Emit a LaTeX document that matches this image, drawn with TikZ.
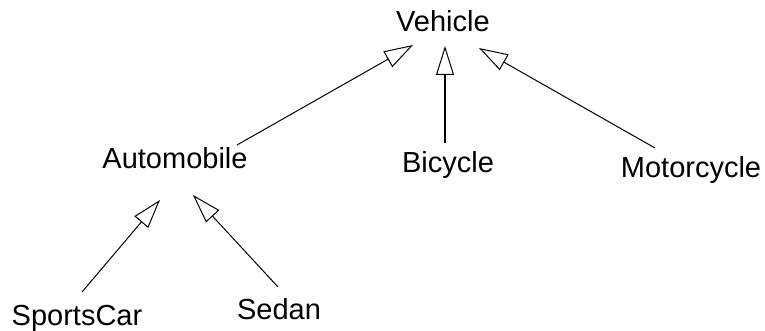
\documentclass[tikz,border=0pt]{standalone}
\usepackage{fontspec}
\setmainfont{Liberation Sans}
\usetikzlibrary{arrows.meta}
\tikzset{
  cls/.style={anchor=base, inner sep=0pt, font=\fontsize{29}{34}\selectfont},
  inherit/.style={line width=1pt, -{Triangle[open, length=29pt, width=18pt, line width=1pt]}},
  inheritthick/.style={inherit, line width=2pt, -{Triangle[open, length=29pt, width=18pt, line width=1pt]}}
}
\begin{document}
\begin{tikzpicture}[x=1pt, y=-1pt]
  \useasboundingbox (0,0) rectangle (765,331);
  % class names
  \node[cls] (vehicle)    at (443,32)  {Vehicle};
  \node[cls] (automobile) at (175,168) {Automobile};
  \node[cls] (bicycle)    at (448,173) {Bicycle};
  \node[cls] (motorcycle) at (691,178) {Motorcycle};
  \node[cls] (sportscar)  at (77,325)  {SportsCar};
  \node[cls] (sedan)      at (279,319) {Sedan};
  % connector end points
  \coordinate (vL) at (413,45);
  \coordinate (vM) at (445,46);
  \coordinate (vR) at (479,48);
  \coordinate (aT) at (237,145);
  \coordinate (bT) at (445,143);
  \coordinate (mT) at (655,148);
  \coordinate (aL) at (160,200);
  \coordinate (aR) at (193,195);
  \coordinate (sT) at (82,292);
  \coordinate (dT) at (278,287);
  % generalisation arrows
  \draw[inherit] (aT) -- (vL);
  \draw[inheritthick] (bT) -- (vM);
  \draw[inherit] (mT) -- (vR);
  \draw[inherit] (sT) -- (aL);
  \draw[inherit] (dT) -- (aR);
\end{tikzpicture}
\end{document}
